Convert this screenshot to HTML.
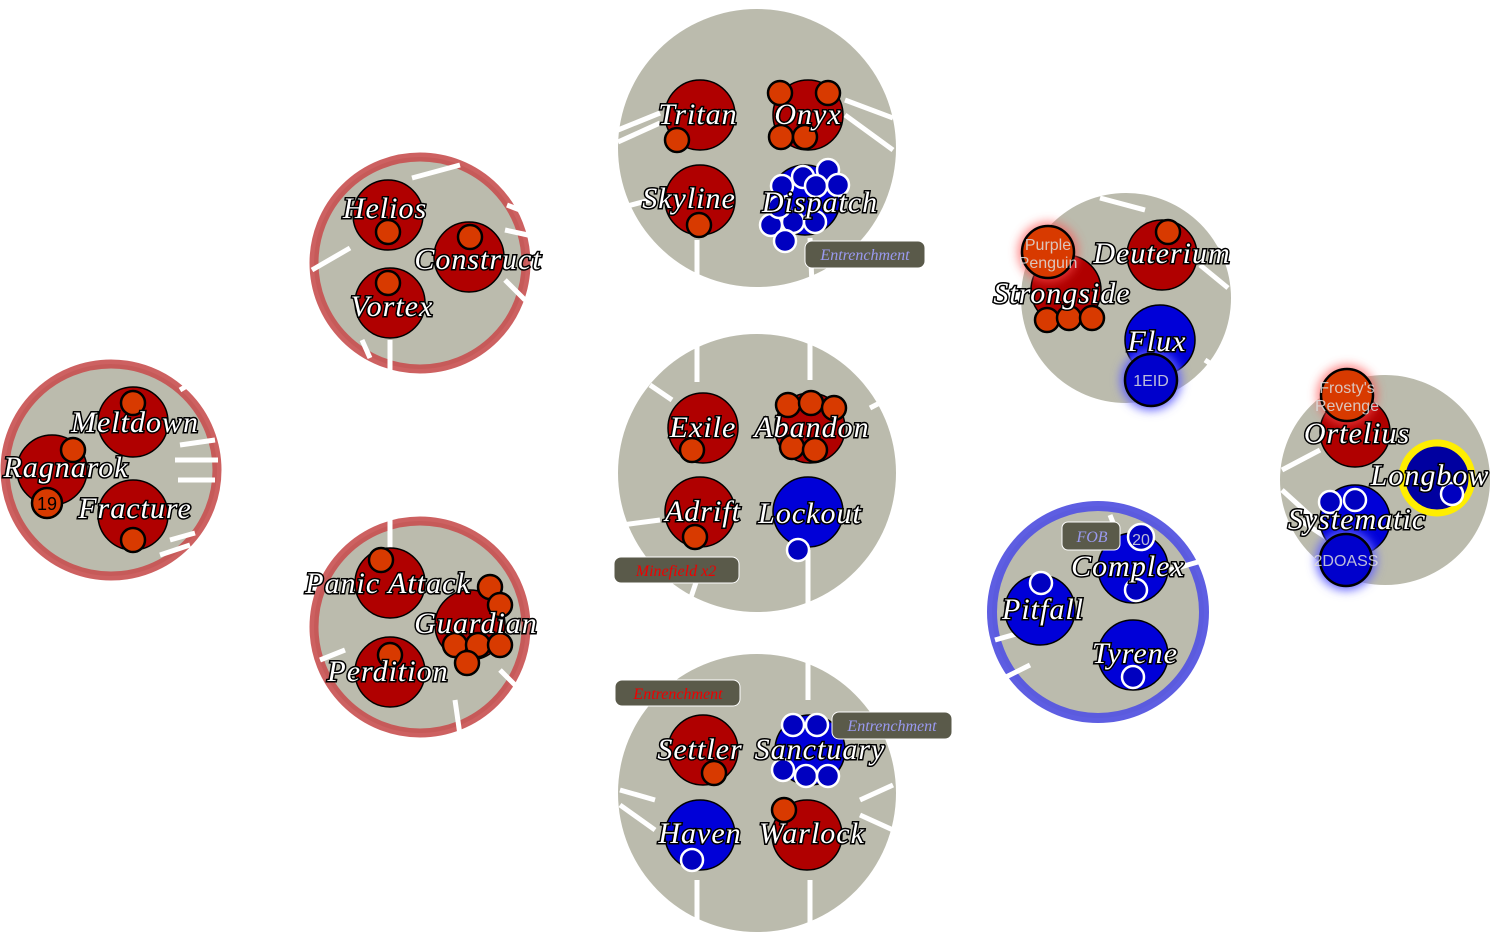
<!DOCTYPE html>
<html><head><meta charset="utf-8"><style>
html,body{margin:0;padding:0;background:#fff;width:1497px;height:942px;overflow:hidden}
svg{display:block}
.c{fill:#bbbbad}
.sp{stroke:#fff;stroke-width:5;fill:none}
.r{fill:#b00000;stroke:#000;stroke-width:1.5}
.b{fill:#0000d8;stroke:#000;stroke-width:1.5}
.o{fill:#d83a00;stroke:#000;stroke-width:2.5}
.bs{fill:#0000c0;stroke:#fff;stroke-width:2.5}
.t{font-family:"Liberation Serif",serif;font-style:italic;font-size:30px;letter-spacing:1px;fill:#fff;stroke:#000;stroke-width:3;paint-order:stroke;text-anchor:middle}
.s{font-family:"Liberation Sans",sans-serif;font-size:16px;fill:#ddd;text-anchor:middle;font-weight:300;opacity:.85}
.bx{fill:#5a5a4a;stroke:#fff;stroke-width:1}
.bt{font-family:"Liberation Serif",serif;font-style:italic;font-size:16px;text-anchor:middle}
</style></head><body>
<svg width="1497" height="942" viewBox="0 0 1497 942">
<defs>
<filter id="gr" x="-1" y="-1" width="3" height="3"><feGaussianBlur stdDeviation="5"/></filter>
</defs>
<circle class="c" cx="757" cy="148" r="139"/>
<circle class="c" cx="757" cy="473" r="139"/>
<circle class="c" cx="757" cy="793" r="139"/>
<circle class="c" cx="420" cy="263" r="106" stroke="#c85050" stroke-opacity=".9" stroke-width="9"/>
<circle class="c" cx="111" cy="470" r="106" stroke="#c85050" stroke-opacity=".9" stroke-width="9"/>
<circle class="c" cx="420" cy="627" r="106" stroke="#c85050" stroke-opacity=".9" stroke-width="9"/>
<circle class="c" cx="1126" cy="298" r="105"/>
<circle class="c" cx="1385" cy="480" r="105"/>
<circle class="c" cx="1098" cy="612" r="106" stroke="#5555e0" stroke-opacity=".95" stroke-width="10"/>
<g class="sp">
<path d="M618 130L660 113M618 142L660 123M845 100L893 118M845 115L893 150M697 240V282M810 238L812 285M620 208L650 200"/>
<path d="M697 337V382M810 337V380M650 385L672 400M870 408L895 395M703 562L690 600M808 550V605M622 525L660 520"/>
<path d="M808 655V700M620 790L655 800M620 805L655 830M860 800L893 785M860 815L893 830M697 880V930M810 880V925"/>
<path d="M412 178L460 165M507 205L520 210M505 230L528 235M505 280L525 300M312 270L350 248M362 340L370 358M390 340V370"/>
<path d="M180 390L200 378M180 445L215 440M175 460L218 460M178 480L215 480M170 540L195 533M160 555L190 545"/>
<path d="M390 520V548M455 700L460 735M500 670L515 685M345 650L320 660"/>
<path d="M1100 198L1145 210M1200 265L1228 288M1205 360L1220 370"/>
<path d="M1282 470L1320 450M1282 490L1315 520M1300 520L1330 540"/>
<path d="M1110 515L1120 540M1170 570L1205 560M995 640L1030 630M1030 665L1000 680"/>
</g>
<circle class="r" cx="700" cy="115" r="35"/><circle class="o" cx="677" cy="140" r="12"/>
<circle class="r" cx="808" cy="115" r="35"/>
<circle class="o" cx="780" cy="93" r="12"/><circle class="o" cx="828" cy="93" r="12"/><circle class="o" cx="781" cy="137" r="12"/><circle class="o" cx="805" cy="137" r="12"/>
<circle class="r" cx="700" cy="200" r="35"/><circle class="o" cx="699" cy="225" r="12"/>
<circle class="b" cx="805" cy="200" r="35"/>
<g class="bs"><circle cx="782" cy="186" r="11"/><circle cx="803" cy="177" r="11"/><circle cx="828" cy="170" r="11"/><circle cx="816" cy="186" r="11"/><circle cx="838" cy="185" r="11"/><circle cx="771" cy="225" r="11"/><circle cx="793" cy="222" r="11"/><circle cx="815" cy="222" r="11"/><circle cx="785" cy="241" r="11"/><circle cx="779" cy="207" r="11"/></g>
<text class="t" x="698" y="124">Tritan</text>
<text class="t" x="808" y="124">Onyx</text>
<text class="t" x="689" y="208">Skyline</text>
<text class="t" x="820" y="212">Dispatch</text>
<rect class="bx" x="805" y="241" width="120" height="27" rx="7"/><text class="bt" x="865" y="260" fill="#9a9af0">Entrenchment</text>
<circle class="r" cx="703" cy="428" r="35"/><circle class="o" cx="692" cy="450" r="12"/>
<circle class="r" cx="810" cy="428" r="35"/>
<circle class="o" cx="788" cy="405" r="12"/><circle class="o" cx="811" cy="403" r="12"/><circle class="o" cx="834" cy="408" r="12"/><circle class="o" cx="792" cy="447" r="12"/><circle class="o" cx="815" cy="450" r="12"/>
<circle class="r" cx="700" cy="512" r="35"/><circle class="o" cx="695" cy="537" r="12"/>
<circle class="b" cx="808" cy="512" r="35"/><circle class="bs" cx="798" cy="550" r="11"/>
<text class="t" x="703" y="437">Exile</text>
<text class="t" x="812" y="437">Abandon</text>
<text class="t" x="703" y="521">Adrift</text>
<text class="t" x="810" y="523">Lockout</text>
<rect class="bx" x="614" y="557" width="125" height="26" rx="7"/><text class="bt" x="676" y="576" fill="#e00">Minefield x2</text>
<circle class="r" cx="703" cy="750" r="35"/><circle class="o" cx="714" cy="773" r="12"/>
<circle class="b" cx="810" cy="750" r="35"/>
<g class="bs"><circle cx="793" cy="725" r="11"/><circle cx="817" cy="725" r="11"/><circle cx="783" cy="770" r="11"/><circle cx="806" cy="776" r="11"/><circle cx="828" cy="776" r="11"/></g>
<circle class="b" cx="700" cy="835" r="35"/><circle class="bs" cx="692" cy="860" r="11"/>
<circle class="r" cx="807" cy="835" r="35"/><circle class="o" cx="784" cy="810" r="12"/>
<text class="t" x="700" y="759">Settler</text>
<text class="t" x="820" y="759">Sanctuary</text>
<text class="t" x="700" y="843">Haven</text>
<text class="t" x="812" y="843">Warlock</text>
<rect class="bx" x="615" y="680" width="125" height="26" rx="7"/><text class="bt" x="678" y="699" fill="#e00">Entrenchment</text>
<rect class="bx" x="832" y="712" width="120" height="27" rx="7"/><text class="bt" x="892" y="731" fill="#9a9af0">Entrenchment</text>
<circle class="r" cx="388" cy="215" r="35"/><circle class="o" cx="388" cy="232" r="12"/>
<circle class="r" cx="469" cy="257" r="35"/><circle class="o" cx="470" cy="237" r="12"/>
<circle class="r" cx="390" cy="303" r="35"/><circle class="o" cx="388" cy="283" r="12"/>
<text class="t" x="385" y="218">Helios</text>
<text class="t" x="478" y="269">Construct</text>
<text class="t" x="392" y="316">Vortex</text>
<circle class="r" cx="133" cy="422" r="35"/><circle class="o" cx="133" cy="403" r="12"/>
<circle class="r" cx="52" cy="470" r="35" stroke="#ffee00" stroke-width="7"/><circle class="o" cx="73" cy="450" r="12"/>
<circle class="r" cx="133" cy="515" r="35"/><circle class="o" cx="133" cy="540" r="12"/>
<circle class="o" cx="47" cy="503" r="15"/><text x="47" y="510" font-family="Liberation Sans,sans-serif" font-size="18" fill="#000" text-anchor="middle">19</text>
<text class="t" x="135" y="432">Meltdown</text>
<text class="t" x="66" y="477">Ragnarok</text>
<text class="t" x="135" y="518">Fracture</text>
<circle class="r" cx="390" cy="583" r="35"/><circle class="o" cx="381" cy="560" r="12"/>
<circle class="r" cx="470" cy="625" r="35"/>
<circle class="o" cx="490" cy="587" r="12"/><circle class="o" cx="500" cy="605" r="12"/><circle class="o" cx="455" cy="645" r="12"/><circle class="o" cx="478" cy="645" r="12"/><circle class="o" cx="500" cy="645" r="12"/><circle class="o" cx="467" cy="663" r="12"/>
<circle class="r" cx="390" cy="672" r="35"/><circle class="o" cx="390" cy="655" r="12"/>
<text class="t" x="388" y="593">Panic Attack</text>
<text class="t" x="476" y="633">Guardian</text>
<text class="t" x="388" y="681">Perdition</text>
<circle class="r" cx="1162" cy="255" r="35"/><circle class="o" cx="1168" cy="232" r="12"/>
<circle class="r" cx="1066" cy="290" r="35"/>
<circle cx="1048" cy="252" r="30" fill="#ff5050" filter="url(#gr)" opacity=".7"/>
<circle class="o" cx="1048" cy="252" r="26" stroke-width="2"/>
<text class="s" x="1048" y="250" font-size="15">Purple</text><text class="s" x="1048" y="268" font-size="15">Penguin</text>
<circle class="o" cx="1047" cy="320" r="12"/><circle class="o" cx="1069" cy="318" r="12"/><circle class="o" cx="1092" cy="318" r="12"/>
<circle class="b" cx="1160" cy="340" r="35"/>
<circle cx="1151" cy="380" r="30" fill="#6060ff" filter="url(#gr)"/>
<circle cx="1151" cy="380" r="26" fill="#0000cc" stroke="#000" stroke-width="2.5"/>
<text class="s" x="1151" y="386" font-size="16">1EID</text>
<text class="t" x="1162" y="263">Deuterium</text>
<text class="t" x="1062" y="303">Strongside</text>
<text class="t" x="1157" y="351">Flux</text>
<circle class="r" cx="1355" cy="432" r="35"/>
<circle cx="1347" cy="395" r="30" fill="#ff5050" filter="url(#gr)" opacity=".7"/>
<circle class="o" cx="1347" cy="395" r="26" stroke-width="2"/>
<text class="s" x="1347" y="393" font-size="15">Frosty's</text><text class="s" x="1347" y="411" font-size="15">Revenge</text>
<circle cx="1437" cy="478" r="35" fill="#0000a0" stroke="#ffee00" stroke-width="7"/>
<circle class="bs" cx="1452" cy="494" r="11"/>
<circle class="b" cx="1355" cy="520" r="35"/>
<circle class="bs" cx="1330" cy="502" r="11"/><circle class="bs" cx="1355" cy="500" r="11"/>
<circle cx="1346" cy="560" r="30" fill="#6060ff" filter="url(#gr)"/>
<circle cx="1346" cy="560" r="26" fill="#0000cc" stroke="#000" stroke-width="2.5"/>
<text class="s" x="1346" y="566" font-size="16">2DOASS</text>
<text class="t" x="1357" y="443">Ortelius</text>
<text class="t" x="1430" y="485">Longbow</text>
<text class="t" x="1357" y="529">Systematic</text>
<circle class="b" cx="1133" cy="568" r="35"/><circle class="bs" cx="1136" cy="590" r="11"/>
<circle cx="1141" cy="537" r="13" fill="#0000c0" stroke="#fff" stroke-width="2.5"/>
<text class="s" x="1141" y="545" font-size="20" fill="#ccf">20</text>
<rect class="bx" x="1062" y="522" width="58" height="28" rx="6"/><text class="bt" x="1092" y="542" fill="#9a9af0">FOB</text>
<circle class="b" cx="1040" cy="610" r="35"/><circle class="bs" cx="1041" cy="583" r="11"/>
<circle class="b" cx="1133" cy="655" r="35"/><circle class="bs" cx="1133" cy="677" r="11"/>
<text class="t" x="1128" y="576">Complex</text>
<text class="t" x="1043" y="619">Pitfall</text>
<text class="t" x="1135" y="663">Tyrene</text>
</svg>
</body></html>
